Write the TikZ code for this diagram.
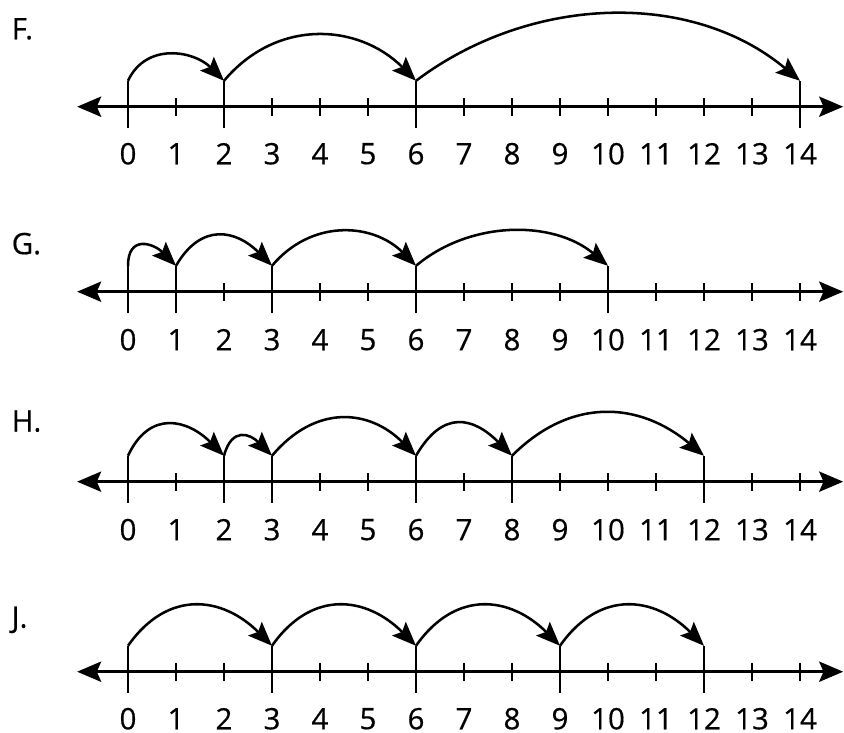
\documentclass[tikz,border=0pt]{standalone}
\usepackage{fontspec}
\setmainfont{Open Sans}[FakeBold=0.5]
\usetikzlibrary{arrows.meta}

\tikzset{
  axisline/.style={line width=1.8pt,
    {Stealth[length=0.5cm,width=0.42cm,inset=0.09cm]}-{Stealth[length=0.5cm,width=0.42cm,inset=0.09cm]}},
  tickmark/.style={line width=1.6pt},
  marker/.style={line width=1.7pt},
  hop/.style={line width=1.5pt, -{Stealth[length=0.5cm,width=0.4cm,inset=0.09cm]}},
  numlabel/.style={font=\fontsize{17.5}{20}\selectfont, inner sep=0pt},
  letter/.style={font=\fontsize{17.5}{20}\selectfont, inner sep=0pt, anchor=west},
}

\begin{document}
\begin{tikzpicture}[>=stealth]
  \useasboundingbox (-2.667,-15.271) rectangle (14.917,0);

  % F: 0, 2, 6, 14
  \begin{scope}[yshift=-2.223cm]
    \draw[axisline] (-1.06,0) -- (14.9,0);
    \foreach \i in {0,...,14} {
      \draw[tickmark] (\i,-0.19) -- (\i,0.19);
      \node[numlabel] (F-n\i) at (\i,-0.98) {\i};
    }
    \foreach \i in {0,2,6,14} {
      \draw[marker] (\i,-0.44) -- (\i,0.54);
      \coordinate (F\i) at (\i,0.54);
    }
    \draw[hop] (F0) to[out=65,in=135,looseness=1.14] (F2);
    \draw[hop] (F2) to[out=50,in=135,looseness=1.09] (F6);
    \draw[hop] (F6) to[out=37,in=140,looseness=0.95] (F14);
    \node[letter] (F) at (-2.43,1.62) {F.};
  \end{scope}

  % G: 0, 1, 3, 6, 10
  \begin{scope}[yshift=-6.077cm]
    \draw[axisline] (-1.06,0) -- (14.9,0);
    \foreach \i in {0,...,14} {
      \draw[tickmark] (\i,-0.19) -- (\i,0.19);
      \node[numlabel] (G-n\i) at (\i,-1) {\i};
    }
    \foreach \i in {0,1,3,6,10} {
      \draw[marker] (\i,-0.44) -- (\i,0.54);
      \coordinate (G\i) at (\i,0.54);
    }
    \draw[hop] (G0) to[out=90,in=135,looseness=1.68] (G1);
    \draw[hop] (G1) to[out=60,in=135,looseness=1.35] (G3);
    \draw[hop] (G3) to[out=50,in=135,looseness=1.09] (G6);
    \draw[hop] (G6) to[out=40,in=140,looseness=0.95] (G10);
    \node[letter] (G) at (-2.43,1.0) {G.};
  \end{scope}

  % H: 0, 2, 3, 6, 8, 12
  \begin{scope}[yshift=-10.035cm]
    \draw[axisline] (-1.06,0) -- (14.9,0);
    \foreach \i in {0,...,14} {
      \draw[tickmark] (\i,-0.19) -- (\i,0.19);
      \node[numlabel] (H-n\i) at (\i,-1) {\i};
    }
    \foreach \i in {0,2,3,6,8,12} {
      \draw[marker] (\i,-0.44) -- (\i,0.54);
      \coordinate (H\i) at (\i,0.54);
    }
    \draw[hop] (H0) to[out=65,in=135,looseness=1.37] (H2);
    \draw[hop] (H2) to[out=75,in=135,looseness=1.63] (H3);
    \draw[hop] (H3) to[out=50,in=135,looseness=1.19] (H6);
    \draw[hop] (H6) to[out=60,in=135,looseness=1.45] (H8);
    \draw[hop] (H8) to[out=45,in=140,looseness=1.12] (H12);
    \node[letter] (H) at (-2.43,1.26) {H.};
  \end{scope}

  % J: 0, 3, 6, 9, 12
  \begin{scope}[yshift=-13.994cm]
    \draw[axisline] (-1.06,0) -- (14.9,0);
    \foreach \i in {0,...,14} {
      \draw[tickmark] (\i,-0.19) -- (\i,0.19);
      \node[numlabel] (J-n\i) at (\i,-0.98) {\i};
    }
    \foreach \i in {0,3,6,9,12} {
      \draw[marker] (\i,-0.44) -- (\i,0.54);
      \coordinate (J\i) at (\i,0.54);
    }
    \draw[hop] (J0) to[out=55,in=135,looseness=1.24] (J3);
    \draw[hop] (J3) to[out=55,in=135,looseness=1.24] (J6);
    \draw[hop] (J6) to[out=55,in=135,looseness=1.24] (J9);
    \draw[hop] (J9) to[out=55,in=135,looseness=1.24] (J12);
    \node[letter] (J) at (-2.43,1.08) {J.};
  \end{scope}
\end{tikzpicture}
\end{document}
